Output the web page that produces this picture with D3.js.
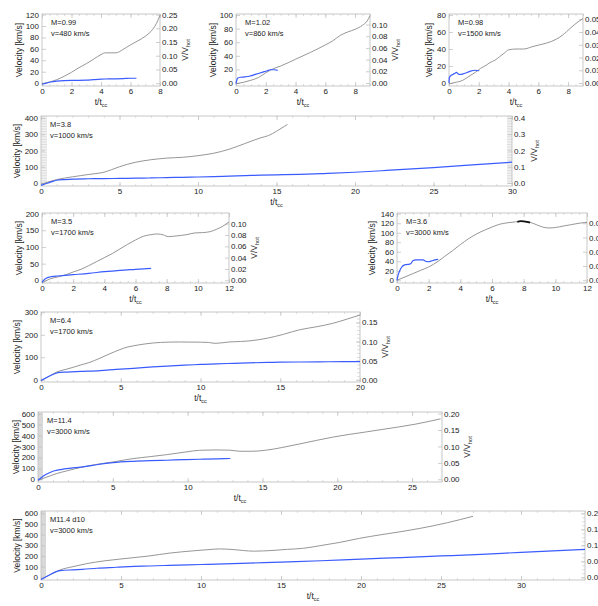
<!DOCTYPE html>
<html><head><meta charset="utf-8">
<script src="https://cdn.jsdelivr.net/npm/d3@7"></script>
<style>
body{margin:0;background:#fff}
svg{display:block}
text{font-family:"Liberation Sans",Arial,Helvetica,sans-serif;fill:#1a1a1a}
</style>
</head><body>
<svg id="c" width="598" height="606"></svg>
<script>
// ---------------- DATA (t/t_cc , velocity km/s) ----------------
const grayM099 = [[0,-1],[0.5,2],[1,6],[1.5,12],[2,19],[2.5,27],[3,34],[3.5,42],[4,50],[4.3,53],[4.6,53],[5,53],[5.5,59],[6,67],[6.5,74],[7,82],[7.5,94],[7.75,104],[8,119]];
const blueM099 = [[0,-2],[0.3,0],[0.6,2],[1,3.5],[1.5,4.5],[2,5],[2.5,5],[3,5.2],[3.5,6.2],[4,7],[4.5,7.3],[5,7.6],[5.5,8],[6,8.6],[6.4,8.6]];

const grayM102 = [[0,-1],[0.5,1],[1,4],[1.5,8],[2,15],[2.5,21],[3,25],[4,35],[5,45],[6,56],[6.5,62],[7,70],[7.5,75],[8,79],[8.5,85],[8.8,91],[9,99]];
const blueM102 = [[0,-1],[0.05,4],[0.1,7],[0.3,8.5],[0.6,9],[0.9,10],[1.2,12],[1.5,14],[1.8,16],[2.1,18],[2.3,19.5],[2.6,19.5],[2.8,18.5]];

const grayM098 = [[0,-1],[0.5,1],[0.75,2],[1,4],[1.4,8.5],[1.8,13],[2.1,17],[2.5,21],[2.75,24],[3.1,27],[3.4,31],[3.7,35],[4,39],[4.5,40],[5,40],[5.65,43],[6.1,45],[6.55,47],[7.2,51.5],[7.6,56],[7.9,60.5],[8.45,69],[9,76]];
const blueM098 = [[0,0],[0.02,6],[0.1,8.5],[0.25,10],[0.4,11.5],[0.5,12.5],[0.6,11],[0.74,10],[0.9,10.5],[1.07,11.5],[1.4,13.7],[1.74,15],[2.03,14.4]];

const grayM38 = [[0,-8],[0.5,8],[1,21],[1.5,30],[2,38],[2.5,45],[3,52],[3.5,58],[4,66],[4.5,82],[5,100],[5.5,115],[6,127],[6.5,136],[7,143],[8,153],[9,158],[10,168],[11,183],[12,208],[13,243],[14,278],[14.5,292],[15,318],[15.5,348],[15.7,360]];
const blueM38 = [[0,-15],[0.3,-5],[0.6,5],[1,17],[1.5,21],[2,24],[3,26],[4,27],[5,28],[6,30],[7,31],[8,33],[9,35],[10,37],[11,39],[12,42],[13,45],[14,48],[15,50],[16.5,53],[18,58],[20,66],[22,77],[25,95],[27,108],[30,128]];

const grayM35 = [[0,-8],[0.5,4],[1,10],[1.6,18],[2,25],[2.5,33],[3,44],[3.5,56],[4,68],[4.5,80],[5,94],[5.5,108],[6,121],[6.5,132],[7,137],[7.4,139],[7.8,136],[8.1,131],[8.6,133],[9.3,137],[9.8,142],[10.3,143],[10.8,146],[11.2,153],[11.6,162],[12,175]];
const blueM35 = [[0,-6],[0.15,2],[0.3,7],[0.5,10],[0.75,12],[1,13],[1.5,15],[2,17],[3,21],[4,26],[5,30],[6,33],[7,36]];

const grayM36 = [[0,0],[0.5,7],[1,14],[1.5,21],[2,28],[2.6,40],[3,50],[3.5,62],[4,75],[4.5,87],[5,97],[5.5,105],[6,112],[6.5,118],[7,121],[7.5,123],[8,124],[8.4,122],[8.8,117],[9.2,112],[9.6,110],[10,111],[10.5,114],[11,117],[11.5,120],[12,122]];
const darkM36 = [[7.6,123],[7.8,124.5],[8,124],[8.2,123],[8.4,121.5]];
const blueM36 = [[0,0],[0.05,8],[0.1,14],[0.2,22],[0.3,28],[0.45,32],[0.6,33],[0.8,34],[0.9,36],[1.0,41],[1.2,43],[1.5,43],[1.65,43],[1.8,40],[2.0,39],[2.2,41],[2.4,43],[2.6,44]];

const grayM64 = [[0,-4],[0.5,15],[1,35],[1.5,45],[2,55],[2.5,66],[3,76],[3.7,96],[4.3,115],[4.9,133],[5.4,145],[5.8,151],[6.6,160],[7.5,166],[8.7,168],[10,167],[10.5,166],[10.9,162],[11.3,164],[11.8,168],[12.5,170],[13.1,173],[14.2,185],[15.2,202],[16.2,222],[17.3,236],[18.3,251],[19.2,270],[20,288]];
const blueM64 = [[0,-4],[0.3,8],[0.6,19],[0.9,28],[1.2,33],[1.6,34],[2.5,37],[3.7,41],[4.7,46],[5.8,51],[7,57],[7.9,61],[9,65],[10,68],[11,71],[12.1,73],[13,75],[14.2,77],[15,78],[16.2,79],[18,80],[20,81]];

const grayM114 = [[0,-9],[0.6,21],[1.24,52],[1.9,76],[3,113],[4,138],[5,158],[6.35,189],[7.5,207],[8.6,225],[9.9,250],[10.8,265],[11.9,268],[12.8,266],[13.5,256],[14.3,256],[15.2,265],[16.3,290],[17.45,322],[18.6,355],[19.7,385],[20.8,410],[21.9,432],[23,455],[24.1,478],[25.2,503],[26,525],[26.9,552]];
const blueM114 = [[0,-9],[0.36,30],[0.8,62],[1.1,78],[1.5,88],[1.9,97],[2.5,106],[3,113],[4,135],[5,152],[6.35,164],[7.5,170],[8.6,174],[9.7,179],[10.8,183],[12,187],[12.85,190]];

const grayM114d10 = [[0,-20],[0.5,20],[1.2,70],[2,100],[2.85,128],[4,155],[5,172],[6.75,200],[8.1,228],[9.5,248],[10.5,260],[11.2,266],[12,260],[13.3,245],[14.5,252],[15.4,262],[16.4,272],[17.5,298],[18.7,328],[19.9,365],[21.2,398],[22.5,428],[23.7,459],[25.4,512],[27,572]];
const blueM114d10 = [[0,-20],[0.5,20],[1.2,62],[2,70],[2.6,75],[3.5,85],[4.7,94],[5.5,100],[6.75,106],[8,112],[10,120],[12.5,130],[15,143],[17.5,155],[20,171],[22.5,185],[25,200],[27.5,215],[30,234],[32,247],[34,262]];

// annotation labels
const labelsM = ["M=0.99","M=1.02","M=0.98","M=3.8","M=3.5","M=3.6","M=6.4","M=11.4","M11.4 d10"];
const labelsV = ["v=480 km/s","v=860 km/s","v=1500 km/s","v=1000 km/s","v=1700 km/s","v=3000 km/s","v=1700 km/s","v=3000 km/s","v=3000 km/s"];
// wind speeds (V_hot) used for right axis
const vHot = [480,860,1500,1000,1700,3000,1700,3000,3000];

// ---------------- LAYOUT ----------------
const panels = [
 {x0:42,x1:160,y0:14,y1:86, xMax:8, xStep:2, xMinor:4, yLo:-5,yHi:121, yStep:20,yTop:120, rStep:0.05,rTop:0.25,rFmt:".2f", gray:grayM099, blue:blueM099, ylOff:20},
 {x0:236,x1:370,y0:14,y1:86, xMax:9, xStep:2, xMinor:4, yLo:-4.4,yHi:101.5, yStep:20,yTop:100, rStep:0.02,rTop:0.10,rFmt:".2f", gray:grayM102, blue:blueM102, ylOff:20},
 {x0:449,x1:583,y0:14,y1:86, xMax:9, xStep:2, xMinor:4, yLo:-3.5,yHi:81.2, yStep:20,yTop:80, rStep:0.01,rTop:0.05,rFmt:".2f", gray:grayM098, blue:blueM098, ylOff:17},
 {x0:41,x1:512,y0:116,y1:186, xMax:30, xStep:5, xMinor:5, yLo:-18.5,yHi:412, yStep:100,yTop:400, rStep:0.1,rTop:0.4,rFmt:".1f", gray:grayM38, blue:blueM38, ylOff:21, lMinor:10, rMinor:10, lLen:6, rLen:5, vvOff:25},
 {x0:42,x1:229,y0:213,y1:283, xMax:12, xStep:2, xMinor:4, yLo:-8,yHi:201.8, yStep:50,yTop:200, rStep:0.02,rTop:0.10,rFmt:".2f", gray:grayM35, blue:blueM35, ylOff:20},
 {x0:397,x1:587,y0:213,y1:283, xMax:12, xStep:2, xMinor:4, yLo:-5.7,yHi:141.5, yStep:20,yTop:140, rStep:0.01,rTop:0.04,rFmt:".2f", gray:grayM36, blue:blueM36, dark:darkM36, ylOff:22},
 {x0:41,x1:360,y0:312,y1:382, xMax:20, xStep:5, xMinor:5, yLo:-10,yHi:301.3, yStep:100,yTop:300, rStep:0.05,rTop:0.15,rFmt:".2f", gray:grayM64, blue:blueM64, ylOff:21, rMinor:5, rLen:3},
 {x0:38,x1:442,y0:412,y1:482, xMax:27, xStep:5, xMinor:5, yLo:-24.7,yHi:614.6, yStep:100,yTop:600, rStep:0.05,rTop:0.20,rFmt:".2f", gray:grayM114, blue:blueM114, ylOff:19, lMinor:20, lLen:5},
 {x0:41,x1:585,y0:511,y1:580, xMax:34, xStep:5, xMinor:5, yLo:-25.3,yHi:621.6, yStep:100,yTop:600, rStep:0.05,rTop:0.20,rFmt:".2f", gray:grayM114d10, blue:blueM114d10, ylOff:21, lMinor:20, lLen:5, rMinor:4, rLen:3}
];

const FRAME = "#c2c2c2";
const MINOR = "#d4d4d4";
const TICKFS = 8;
const svg = d3.select("#c");

function range(a, b, s){ const out=[]; for(let v=a; v<=b+1e-9; v+=s) out.push(+v.toFixed(6)); return out; }

function styleAxis(g, stroke){
  g.select(".domain").remove();
  g.selectAll(".tick line").attr("stroke", stroke).attr("stroke-width",0.8);
  g.selectAll(".tick text").attr("font-size", TICKFS).attr("font-family",'"Liberation Sans",Arial,sans-serif').attr("fill","#1a1a1a");
}

panels.forEach((p, i) => {
  const g = svg.append("g");
  const x = d3.scaleLinear().domain([0, p.xMax]).range([p.x0, p.x1]);
  const y = d3.scaleLinear().domain([p.yLo, p.yHi]).range([p.y1, p.y0]);
  const k = 1 / vHot[i];
  const yr = d3.scaleLinear().domain([p.yLo * k, p.yHi * k]).range([p.y1, p.y0]);

  // minor ticks
  const xMin = range(0, p.xMax, p.xStep / p.xMinor);
  [[d3.axisBottom, p.y1], [d3.axisTop, p.y0]].forEach(([fn, ty]) => {
    g.append("g").attr("transform", `translate(0,${ty})`)
      .call(fn(x).tickValues(xMin).tickSize(-2).tickFormat(""))
      .call(s => styleAxis(s, MINOR));
  });
  if (p.lMinor) {
    const vals = range(0, p.yHi, p.yStep / p.lMinor);
    g.append("g").attr("transform", `translate(${p.x0},0)`)
      .call(d3.axisLeft(y).tickValues(vals).tickSize(-p.lLen).tickFormat(""))
      .call(s => styleAxis(s, MINOR));
  }
  if (p.rMinor) {
    const vals = range(0, p.yHi * k, p.rStep / p.rMinor);
    g.append("g").attr("transform", `translate(${p.x1},0)`)
      .call(d3.axisRight(yr).tickValues(vals).tickSize(-p.rLen).tickFormat(""))
      .call(s => styleAxis(s, MINOR));
  }

  // frame
  g.append("rect").attr("x", p.x0).attr("y", p.y0)
    .attr("width", p.x1 - p.x0).attr("height", p.y1 - p.y0)
    .attr("fill", "none").attr("stroke", FRAME).attr("stroke-width", 0.9);

  // major axes
  const xMaj = range(0, p.xMax, p.xStep);
  g.append("g").attr("transform", `translate(0,${p.y1})`)
    .call(d3.axisBottom(x).tickValues(xMaj).tickSize(-4).tickPadding(2.5).tickFormat(d3.format("d")))
    .call(s => styleAxis(s, FRAME));
  g.append("g").attr("transform", `translate(0,${p.y0})`)
    .call(d3.axisTop(x).tickValues(xMaj).tickSize(-4).tickFormat(""))
    .call(s => styleAxis(s, FRAME));
  g.append("g").attr("transform", `translate(${p.x0},0)`)
    .call(d3.axisLeft(y).tickValues(range(0, p.yTop, p.yStep)).tickSize(-4).tickPadding(3).tickFormat(d3.format("d")))
    .call(s => styleAxis(s, FRAME));
  g.append("g").attr("transform", `translate(${p.x1},0)`)
    .call(d3.axisRight(yr).tickValues(range(0, p.rTop, p.rStep)).tickSize(-4).tickPadding(2).tickFormat(d3.format(p.rFmt)))
    .call(s => styleAxis(s, FRAME));

  // lines
  const line = d3.line().x(d => x(d[0])).y(d => y(d[1])).curve(d3.curveMonotoneX);
  g.append("path").datum(p.gray).attr("d", line)
    .attr("fill", "none").attr("stroke", "#8a8a8a").attr("stroke-width", 0.9);
  if (p.dark) g.append("path").datum(p.dark).attr("d", line)
    .attr("fill", "none").attr("stroke", "#111").attr("stroke-width", 1.8);
  g.append("path").datum(p.blue).attr("d", line)
    .attr("fill", "none").attr("stroke", "#3a5cff").attr("stroke-width", 1.2);

  // annotations
  g.append("text").attr("x", p.x0 + 9).attr("y", p.y0 + 11).attr("font-size", 7.5).text(labelsM[i]);
  g.append("text").attr("x", p.x0 + 9).attr("y", p.y0 + 21.5).attr("font-size", 7.5).text(labelsV[i]);

  // axis titles
  const yc = (p.y0 + p.y1) / 2;
  g.append("text").attr("transform", `translate(${p.x0 - p.ylOff},${yc}) rotate(-90)`)
    .attr("text-anchor", "middle").attr("font-size", 8.5).text("Velocity [km/s]");
  const vv = g.append("text").attr("transform", `translate(${p.x1 + (p.vvOff || 28)},${yc}) rotate(-90)`)
    .attr("text-anchor", "middle").attr("font-size", 8.5);
  vv.append("tspan").text("V/V");
  vv.append("tspan").attr("font-size", 5.5).attr("dy", 2).text("hot");
  const xt = g.append("text").attr("x", (p.x0 + p.x1) / 2).attr("y", p.y1 + 18.5)
    .attr("text-anchor", "middle").attr("font-size", 8.5);
  xt.append("tspan").text("t/t");
  xt.append("tspan").attr("font-size", 5.5).attr("dy", 2).text("cc");
});
</script>
</body></html>
